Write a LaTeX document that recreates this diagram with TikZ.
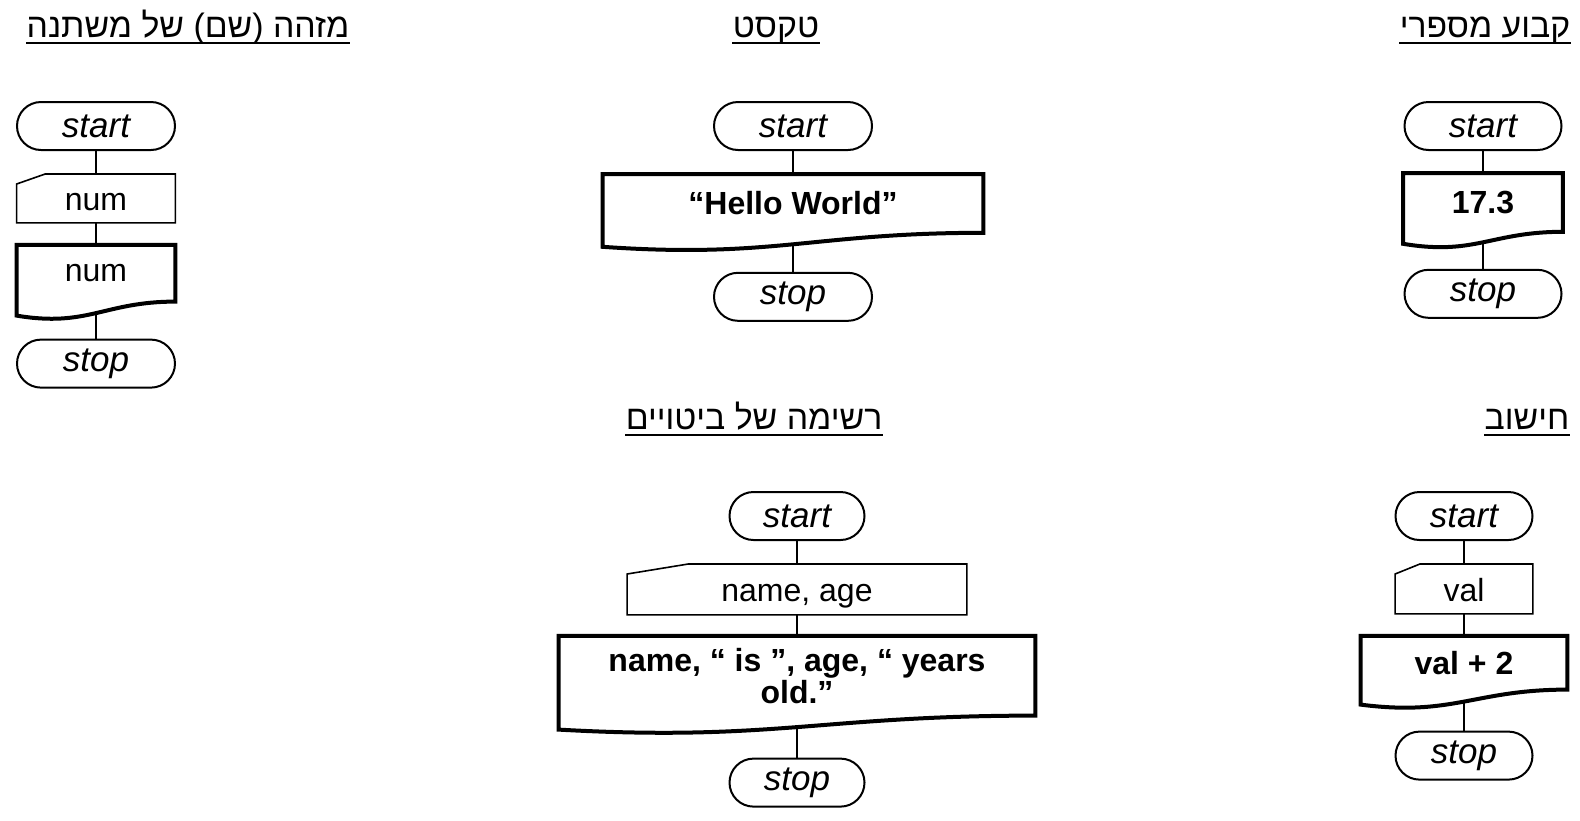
\documentclass[tikz,border=0pt]{standalone}
\usepackage{fontspec}
\setmainfont{Liberation Sans}
\newfontfamily\hebrewfont[Script=Hebrew]{Liberation Sans}
\TeXXeTstate=1
\usetikzlibrary{positioning, calc, backgrounds}
\tikzstyle{term_node} = [
    rectangle,
    rounded corners=12pt,
    draw=black,
    fill=white,
    line width=1pt,
    font=\fontsize{17.5}{18}\selectfont\itshape,
    inner sep=0pt,
    minimum height=24pt
]
\tikzstyle{input_node} = [
    rectangle,
    font=\fontsize{16}{18}\selectfont,
    inner sep=0pt,
    text height=12.5pt, % keeps the baseline the same in every box
    text depth=0pt,
    minimum height=24pt
]
\tikzstyle{output_node} = [
    rectangle,
    font=\fontsize{16}{14}\selectfont\bfseries,
    align=center,
    inner sep=0pt
]
\tikzstyle{title_node} = [
    font=\hebrewfont\fontsize{16.9}{18}\selectfont,
    anchor=base,
    inner sep=0pt
]
\tikzstyle{link} = [
    line width=1pt
]

\begin{document}
\begin{tikzpicture}[x=0.5pt, y=-0.5pt]
\useasboundingbox (0,0) rectangle (1580,820);

% titles
\node[title_node] (t_ident) at (188,37) {\beginR מזהה (שם) של משתנה\endR};
\node[title_node] (t_text) at (776,37) {\beginR טקסט\endR};
\node[title_node] (t_const) at (1485,37) {\beginR קבוע מספרי\endR};
\node[title_node] (t_list) at (754,429) {\beginR רשימה של ביטויים\endR};
\node[title_node] (t_calc) at (1527,429) {\beginR חישוב\endR};
\foreach \t in {t_ident, t_text, t_const, t_list, t_calc} {
    \draw[line width=1pt] ($(\t.base west)+(0,6)$) -- ($(\t.base east)+(0,6)$);
}

% identifier
\node[term_node, minimum width=79pt] (a_start) at (96,126) {start};
\node[input_node, minimum width=79pt, below=11.5pt of a_start] (a_in) {num};
\node[output_node, minimum width=79pt, minimum height=28pt, font=\fontsize{16}{18}\selectfont\mdseries, below=11pt of a_in] (a_out) {num};
\node[term_node, minimum width=79pt, below=18.5pt of a_out] (a_stop) {stop};

% text
\node[term_node, minimum width=79pt] (b_start) at (793,126) {start};
\node[output_node, minimum width=190pt, minimum height=29pt, below=11.5pt of b_start] (b_out) {“Hello World”};
\node[term_node, minimum width=79pt, below=19.5pt of b_out] (b_stop) {stop};

% constant
\node[term_node, minimum width=78.5pt] (c_start) at (1483,126) {start};
\node[output_node, minimum width=79.5pt, minimum height=29pt, below=11pt of c_start] (c_out) {17.3};
\node[term_node, minimum width=78.5pt, below=18.5pt of c_out] (c_stop) {stop};

% list of expressions
\node[term_node, minimum width=67.5pt] (d_start) at (797,516) {start};
\node[input_node, minimum width=169.5pt, minimum height=25pt, below=11.5pt of d_start] (d_in) {name, age};
\node[output_node, minimum width=238pt, minimum height=39.5pt, below=10.5pt of d_in] (d_out) {name, “ is ”, age, “ years\\old.”};
\node[term_node, minimum width=67.5pt, below=21pt of d_out] (d_stop) {stop};

% calculation
\node[term_node, minimum width=68.5pt] (e_start) at (1464,516) {start};
\node[input_node, minimum width=68.5pt, minimum height=24.5pt, below=11.5pt of e_start] (e_in) {val};
\node[output_node, minimum width=103pt, minimum height=26.5pt, below=11pt of e_in] (e_out) {val + 2};
\node[term_node, minimum width=68.5pt, below=20.5pt of e_out] (e_stop) {stop};

\begin{pgfonlayer}{background}
\draw[link] (a_start) -- (a_in) -- (a_out) -- (a_stop);
\draw[link] (b_start) -- (b_out) -- (b_stop);
\draw[link] (c_start) -- (c_out) -- (c_stop);
\draw[link] (d_start) -- (d_in) -- (d_out) -- (d_stop);
\draw[link] (e_start) -- (e_in) -- (e_out) -- (e_stop);
% manual input outlines
\foreach \n in {a_in, d_in, e_in} {
    \draw[line width=0.8pt, fill=white] ($(\n.north west)+(0,10)$) -- ($(\n.north west)!0.18!(\n.north east)$) -- (\n.north east) -- (\n.south east) -- (\n.south west) -- cycle;
}
% display outlines with wavy bottom
\foreach \n/\d in {a_out/14, b_out/14, c_out/12, d_out/14, e_out/15} {
    \draw[line width=2pt, fill=white, line join=miter] (\n.south east) -- (\n.north east) -- (\n.north west) -- ($(\n.south west)+(0,\d)$) .. controls ($(\n.south west)!0.45!(\n.south east)+(0,\d+12)$) and ($(\n.south west)!0.55!(\n.south east)$) .. (\n.south east) -- cycle;
}
\end{pgfonlayer}
\end{tikzpicture}
\end{document}
